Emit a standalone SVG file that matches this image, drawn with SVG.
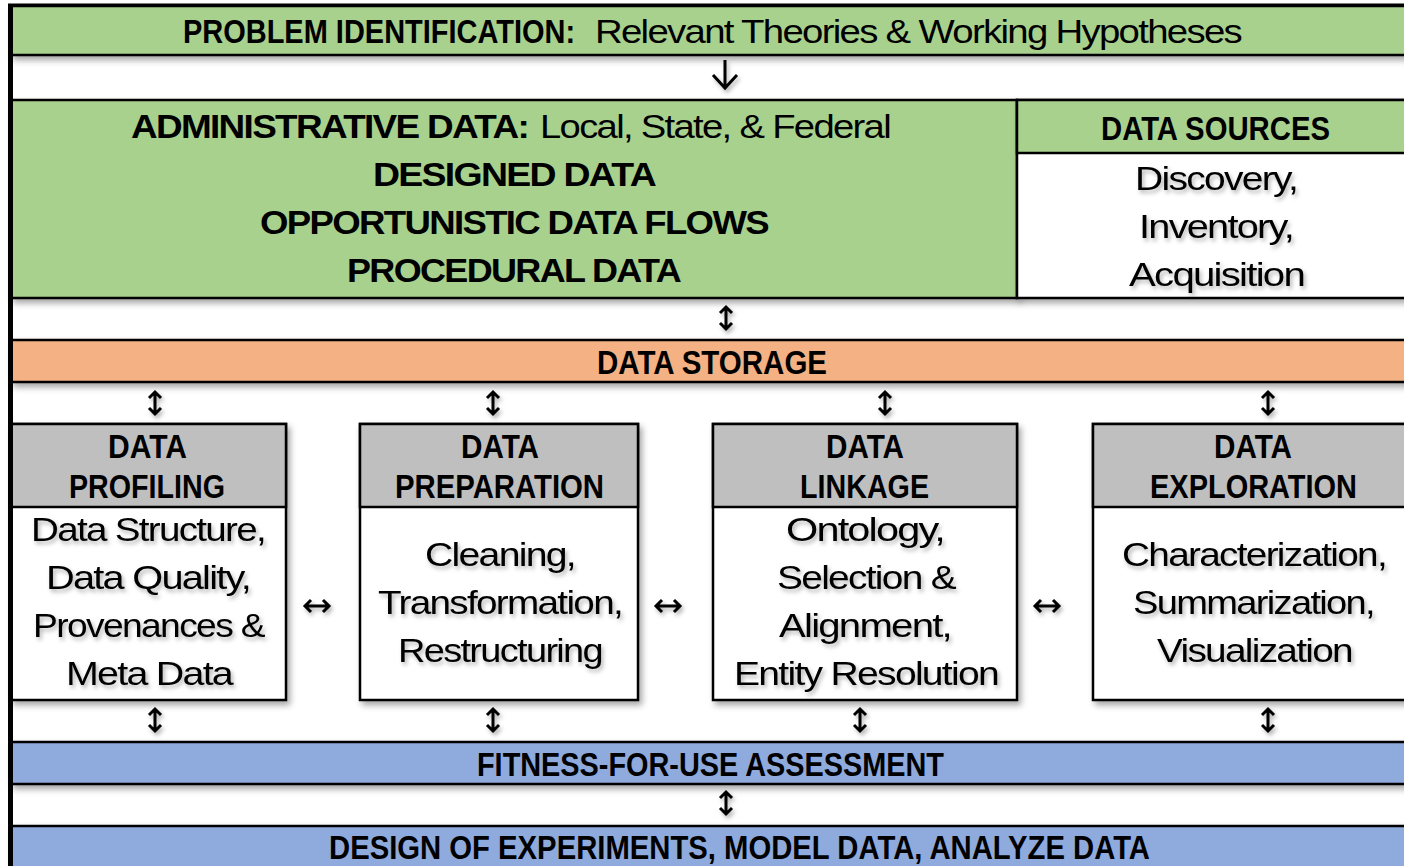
<svg xmlns="http://www.w3.org/2000/svg" width="1404" height="866" viewBox="0 0 1404 866">
<defs>
<filter id="sh" x="-5%" y="-20%" width="115%" height="160%">
<feDropShadow dx="3" dy="4" stdDeviation="3" flood-color="#000" flood-opacity="0.35"/>
</filter>
<filter id="tsh" x="-10%" y="-30%" width="130%" height="180%">
<feDropShadow dx="2" dy="3" stdDeviation="2" flood-color="#000" flood-opacity="0.3"/>
</filter>
<style>
.band{stroke:#000;stroke-width:2.5}
.green{fill:#a9d18e}
.orange{fill:#f4b183}
.blue{fill:#8faadc}
.white{fill:#fff}
.box{fill:#fff;stroke:#000;stroke-width:2.5}
.boxh{fill:#bfbfbf;stroke:#000;stroke-width:2.5}
.hd{font-family:"Liberation Sans",Arial,sans-serif;font-weight:bold;font-size:34px;fill:#000}
.bd{font-family:"Liberation Sans",Arial,sans-serif;font-size:34px;fill:#000;letter-spacing:-1.5px}
.bb{font-family:"Liberation Sans",Arial,sans-serif;font-weight:bold;font-size:33px;fill:#000;letter-spacing:-1.5px}
.arr{fill:none;stroke:#000;stroke-width:3;stroke-linecap:butt}
</style>
</defs>
<rect x="0" y="0" width="1404" height="866" fill="#fff"/>

<g id="problem">
<rect class="band green" x="11" y="6" width="1400" height="49" filter="url(#sh)"/>
<text class="hd" transform="translate(183 43) scale(0.852 1)" x="0" y="0">PROBLEM IDENTIFICATION:</text>
<text class="bd" x="595" y="43" textLength="646" lengthAdjust="spacingAndGlyphs">Relevant Theories &amp; Working Hypotheses</text>
</g>

<g id="data-types">
<rect class="band green" x="11" y="100" width="1006" height="198" filter="url(#sh)"/>
<text class="bb" x="131" y="138" textLength="397" lengthAdjust="spacingAndGlyphs">ADMINISTRATIVE DATA:</text>
<text class="bd" x="540" y="138" textLength="350" lengthAdjust="spacingAndGlyphs">Local, State, &amp; Federal</text>
<text class="bb" x="373" y="186" textLength="282" lengthAdjust="spacingAndGlyphs">DESIGNED DATA</text>
<text class="bb" x="260" y="234" textLength="508" lengthAdjust="spacingAndGlyphs">OPPORTUNISTIC DATA FLOWS</text>
<text class="bb" x="347" y="282" textLength="333" lengthAdjust="spacingAndGlyphs">PROCEDURAL DATA</text>
</g>

<g id="data-sources">
<rect class="band white" x="1017" y="100" width="400" height="198" filter="url(#sh)"/>
<rect class="band green" x="1017" y="100" width="400" height="53"/>
<line x1="1017" y1="100" x2="1017" y2="298" stroke="#000" stroke-width="2" stroke-dasharray="4 2"/>
<text class="hd" x="1101" y="140" textLength="229" lengthAdjust="spacingAndGlyphs">DATA SOURCES</text>
<g filter="url(#tsh)">
<text class="bd" x="1135" y="190" textLength="162" lengthAdjust="spacingAndGlyphs">Discovery,</text>
<text class="bd" x="1139" y="238" textLength="154" lengthAdjust="spacingAndGlyphs">Inventory,</text>
<text class="bd" x="1129" y="286" textLength="175" lengthAdjust="spacingAndGlyphs">Acquisition</text>
</g>
</g>

<g id="storage">
<rect class="band orange" x="11" y="340" width="1400" height="42" filter="url(#sh)"/>
<text class="hd" x="597" y="374" textLength="230" lengthAdjust="spacingAndGlyphs">DATA STORAGE</text>
</g>

<g id="profiling">
<rect class="box" x="11" y="424" width="275" height="276" filter="url(#sh)"/>
<rect class="boxh" x="11" y="424" width="275" height="83"/>
<text class="hd" x="108" y="458" textLength="79" lengthAdjust="spacingAndGlyphs">DATA</text>
<text class="hd" x="69" y="498" textLength="156" lengthAdjust="spacingAndGlyphs">PROFILING</text>
<g filter="url(#tsh)">
<text class="bd" x="31" y="541" textLength="234" lengthAdjust="spacingAndGlyphs">Data Structure,</text>
<text class="bd" x="46" y="589" textLength="204" lengthAdjust="spacingAndGlyphs">Data Quality,</text>
<text class="bd" x="33" y="637" textLength="231" lengthAdjust="spacingAndGlyphs">Provenances &amp;</text>
<text class="bd" x="66" y="685" textLength="166" lengthAdjust="spacingAndGlyphs">Meta Data</text>
</g>
</g>

<g id="preparation">
<rect class="box" x="360" y="424" width="278" height="276" filter="url(#sh)"/>
<rect class="boxh" x="360" y="424" width="278" height="83"/>
<text class="hd" x="461" y="458" textLength="78" lengthAdjust="spacingAndGlyphs">DATA</text>
<text class="hd" x="395" y="498" textLength="209" lengthAdjust="spacingAndGlyphs">PREPARATION</text>
<g filter="url(#tsh)">
<text class="bd" x="425" y="566" textLength="150" lengthAdjust="spacingAndGlyphs">Cleaning,</text>
<text class="bd" x="378" y="614" textLength="244" lengthAdjust="spacingAndGlyphs">Transformation,</text>
<text class="bd" x="398" y="662" textLength="204" lengthAdjust="spacingAndGlyphs">Restructuring</text>
</g>
</g>

<g id="linkage">
<rect class="box" x="713" y="424" width="304" height="276" filter="url(#sh)"/>
<rect class="boxh" x="713" y="424" width="304" height="83"/>
<text class="hd" x="826" y="458" textLength="78" lengthAdjust="spacingAndGlyphs">DATA</text>
<text class="hd" x="800" y="498" textLength="129" lengthAdjust="spacingAndGlyphs">LINKAGE</text>
<g filter="url(#tsh)">
<text class="bd" x="786" y="541" textLength="158" lengthAdjust="spacingAndGlyphs">Ontology,</text>
<text class="bd" x="777" y="589" textLength="178" lengthAdjust="spacingAndGlyphs">Selection &amp;</text>
<text class="bd" x="779" y="637" textLength="172" lengthAdjust="spacingAndGlyphs">Alignment,</text>
<text class="bd" x="734" y="685" textLength="264" lengthAdjust="spacingAndGlyphs">Entity Resolution</text>
</g>
</g>

<g id="exploration">
<rect class="box" x="1093" y="424" width="320" height="276" filter="url(#sh)"/>
<rect class="boxh" x="1093" y="424" width="320" height="83"/>
<text class="hd" x="1214" y="458" textLength="78" lengthAdjust="spacingAndGlyphs">DATA</text>
<text class="hd" x="1150" y="498" textLength="207" lengthAdjust="spacingAndGlyphs">EXPLORATION</text>
<g filter="url(#tsh)">
<text class="bd" x="1122" y="566" textLength="264" lengthAdjust="spacingAndGlyphs">Characterization,</text>
<text class="bd" x="1133" y="614" textLength="241" lengthAdjust="spacingAndGlyphs">Summarization,</text>
<text class="bd" x="1157" y="662" textLength="195" lengthAdjust="spacingAndGlyphs">Visualization</text>
</g>
</g>

<g id="fitness">
<rect class="band blue" x="11" y="742" width="1400" height="42" filter="url(#sh)"/>
<text class="hd" x="477" y="776" textLength="467" lengthAdjust="spacingAndGlyphs">FITNESS-FOR-USE ASSESSMENT</text>
</g>

<g id="design">
<rect class="band blue" x="11" y="826" width="1400" height="50" filter="url(#sh)"/>
<text class="hd" x="329" y="859" textLength="821" lengthAdjust="spacingAndGlyphs">DESIGN OF EXPERIMENTS, MODEL DATA, ANALYZE DATA</text>
</g>

<g id="frame">
<line x1="10.5" y1="4" x2="10.5" y2="866" stroke="#000" stroke-width="5"/>
<line x1="8" y1="5" x2="1404" y2="5" stroke="#000" stroke-width="3"/>
</g>

<g id="connectors" filter="url(#tsh)">
<path class="arr" stroke-width="4.5" d="M725,60 V87 M713,75 L725,88 L737,75"/>
<path class="arr" d="M726,308 V328 M720,313 L726,307 L732,313 M720,323 L726,329 L732,323"/>
<path class="arr" d="M155,393 V413 M149,398 L155,392 L161,398 M149,408 L155,414 L161,408"/>
<path class="arr" d="M493,393 V413 M487,398 L493,392 L499,398 M487,408 L493,414 L499,408"/>
<path class="arr" d="M885,393 V413 M879,398 L885,392 L891,398 M879,408 L885,414 L891,408"/>
<path class="arr" d="M1268,393 V413 M1262,398 L1268,392 L1274,398 M1262,408 L1268,414 L1274,408"/>
<path class="arr" stroke-width="2.5" d="M305,606 H329 M311,600 L305,606 L311,612 M323,600 L329,606 L323,612"/>
<path class="arr" stroke-width="2.5" d="M656,606 H680 M662,600 L656,606 L662,612 M674,600 L680,606 L674,612"/>
<path class="arr" stroke-width="2.5" d="M1035,606 H1059 M1041,600 L1035,606 L1041,612 M1053,600 L1059,606 L1053,612"/>
<path class="arr" d="M155,710 V730 M149,715 L155,709 L161,715 M149,725 L155,731 L161,725"/>
<path class="arr" d="M493,710 V730 M487,715 L493,709 L499,715 M487,725 L493,731 L499,725"/>
<path class="arr" d="M860,710 V730 M854,715 L860,709 L866,715 M854,725 L860,731 L866,725"/>
<path class="arr" d="M1268,710 V730 M1262,715 L1268,709 L1274,715 M1262,725 L1268,731 L1274,725"/>
<path class="arr" d="M726,793 V813 M720,798 L726,792 L732,798 M720,808 L726,814 L732,808"/>
</g>
</svg>
